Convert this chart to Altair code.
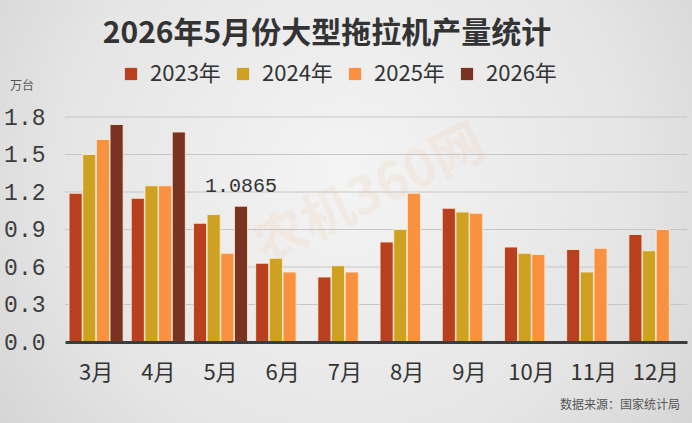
import altair as alt
import pandas as pd

months = ["3月", "4月", "5月", "6月", "7月", "8月", "9月", "10月", "11月", "12月"]
years = ["2023年", "2024年", "2025年", "2026年"]
v2023 = [1.19, 1.15, 0.95, 0.63, 0.52, 0.80, 1.07, 0.76, 0.74, 0.86]
v2024 = [1.50, 1.25, 1.02, 0.67, 0.61, 0.90, 1.04, 0.71, 0.56, 0.73]
v2025 = [1.62, 1.25, 0.71, 0.56, 0.56, 1.19, 1.03, 0.70, 0.75, 0.90]
v2026 = [1.74, 1.68, 1.0865]
y_ticks = [0.0, 0.3, 0.6, 0.9, 1.2, 1.5, 1.8]
colors = ["#b9401f", "#cfa122", "#fa9140", "#7a3321"]
annot_month = "5月"
annot_year = "2026年"
annot_value = 1.0865
title_text = "2026年5月份大型拖拉机产量统计"
unit_text = "万台"
source_text = "数据来源：国家统计局"
watermark_text = "农机360网"

rows = []
for yr, vals in zip(years, [v2023, v2024, v2025, v2026]):
    for m, v in zip(months, vals):
        rows.append({"month": m, "year": yr, "value": v})
df = pd.DataFrame(rows)

W, H = 622, 225
PL, PT, PR, PB = 65, 117, 5, 81

one = pd.DataFrame({"k": [0]})
yscale = alt.Scale(domain=[0, 1.8], nice=False, zero=True)
xscale = alt.Scale(domain=months, paddingInner=0.13, paddingOuter=0.065)
xoscale = alt.Scale(domain=years, paddingInner=0.04, paddingOuter=0)
yaxis = alt.Axis(title=None, values=y_ticks, format=".1f", labelFont="Liberation Mono",
                 labelFontSize=23, labelColor="#3d3d3d", labelPadding=20,
                 domain=False, ticks=False, grid=False, zindex=1)
xaxis = alt.Axis(title=None, labelAngle=0, labelFontSize=22, labelFont="Noto Sans CJK SC",
                 labelColor="#333333", labelPadding=20, ticks=False, grid=False,
                 domainColor="#3c3c3c", domainWidth=3, zindex=1)

bg = alt.Chart(one).mark_rect(
    fill={
        "gradient": "radial",
        "x1": 0.5, "y1": 0.45, "r1": 0,
        "x2": 0.5, "y2": 0.45, "r2": 0.75,
        "stops": [
            {"offset": 0, "color": "#f4f4f4"},
            {"offset": 0.55, "color": "#e5e5e5"},
            {"offset": 1, "color": "#cbcbcb"},
        ],
    }
).encode(x=alt.value(-PL), x2=alt.value(W + PR), y=alt.value(-PT), y2=alt.value(H + PB))

watermark = alt.Chart(one).mark_text(
    text=watermark_text, fontSize=52, fontWeight="bold", font="Noto Sans CJK SC",
    color="#f0a050", opacity=0.09, angle=334, align="center", baseline="middle"
).encode(x=alt.value(305), y=alt.value(78))

grid = alt.Chart(pd.DataFrame({"value": y_ticks[1:]})).mark_rule(
    color="#c6c6c6", strokeWidth=1
).encode(y=alt.Y("value:Q", scale=yscale, axis=yaxis), x=alt.value(0), x2=alt.value(W))

bars = alt.Chart(df).mark_bar(
    stroke="#fbefd9", strokeWidth=1, strokeOpacity=0.85
).encode(
    x=alt.X("month:N", sort=months, scale=xscale, axis=xaxis),
    xOffset=alt.XOffset("year:N", sort=years, scale=xoscale),
    y=alt.Y("value:Q", scale=yscale, axis=yaxis),
    color=alt.Color("year:N", sort=years, scale=alt.Scale(domain=years, range=colors),
                    legend=alt.Legend(title=None, orient="none", legendX=55, legendY=-54,
                                      direction="horizontal", symbolType="square", symbolSize=150,
                                      symbolStrokeWidth=0, labelFontSize=22, labelFont="Noto Sans CJK SC",
                                      labelColor="#333333", columnPadding=11, labelOffset=8, padding=0)),
)

annot = alt.Chart(pd.DataFrame({"month": [annot_month], "year": [annot_year], "value": [annot_value],
                                "label": [f"{annot_value}"]})).mark_text(
    dy=-20, fontSize=20, font="Liberation Mono", color="#333333", align="center", baseline="middle"
).encode(
    x=alt.X("month:N", sort=months, scale=xscale, axis=xaxis),
    xOffset=alt.XOffset("year:N", sort=years, scale=xoscale),
    y=alt.Y("value:Q", scale=yscale, axis=yaxis),
    text="label:N",
)

title = alt.Chart(one).mark_text(
    text=title_text, fontSize=30, fontWeight="bold", font="Noto Sans CJK SC", color="#333333",
    align="center", baseline="middle"
).encode(x=alt.value(262), y=alt.value(-83))

unit = alt.Chart(one).mark_text(
    text=unit_text, fontSize=12, font="Noto Sans CJK SC", color="#555555", align="left", baseline="middle"
).encode(x=alt.value(-55), y=alt.value(-31))

source = alt.Chart(one).mark_text(
    text=source_text, fontSize=12, font="Noto Sans CJK SC", color="#555555", align="right", baseline="middle"
).encode(x=alt.value(615), y=alt.value(288))

chart = alt.layer(bg, watermark, grid, bars, annot, title, unit, source).properties(
    width=W, height=H,
    padding={"left": PL, "top": PT, "right": PR, "bottom": PB},
    autosize=alt.AutoSizeParams(type="none"),
    background="#e2e2e2",
).configure_view(stroke=None)

chart.save("out.html", embed_options={"renderer": "svg", "actions": False})
